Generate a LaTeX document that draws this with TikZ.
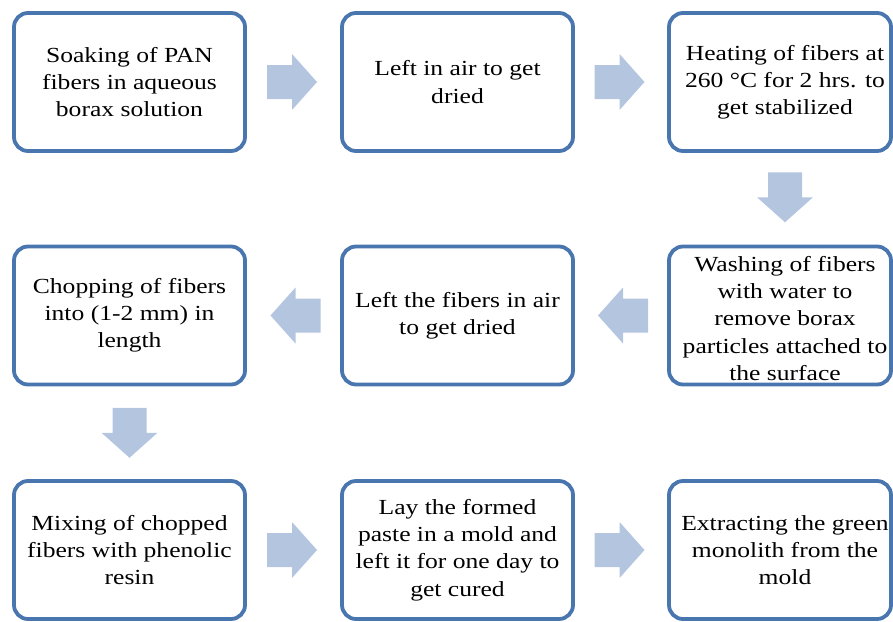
\documentclass[tikz,border=0pt]{standalone}
\usepackage{fontspec}
\setmainfont{Liberation Serif}[FakeStretch=1.19]
\usetikzlibrary{calc}
\definecolor{boxblue}{RGB}{74,118,175}
\definecolor{arrowblue}{RGB}{180,197,224}
\begin{document}
\begin{tikzpicture}[x=1pt,y=-1pt,
  stepbox/.style={draw=boxblue, line width=3.8pt, rounded corners=14pt, fill=white,
    minimum width=231pt, minimum height=138pt, inner sep=0pt},
  narrowbox/.style={stepbox, minimum width=222pt},
  txt/.style={align=center, font=\fontsize{21.5}{27.2}\selectfont, inner sep=0pt},
  blockarrow/.pic={\fill[arrowblue] (-25,-17) -- (0,-17) -- (0,-28) -- (25,0) -- (0,28) -- (0,17) -- (-25,17) -- cycle;}
]
\useasboundingbox (0,0) rectangle (893,621);
% boxes
\node[stepbox]   (b1) at (129.5,82) {};
\node[stepbox]   (b2) at (457.5,82) {};
\node[narrowbox] (b3) at (780,82) {};
\node[stepbox]   (b4) at (129.5,315.5) {};
\node[stepbox]   (b5) at (457.5,315.5) {};
\node[narrowbox] (b6) at (780,315.5) {};
\node[stepbox]   (b7) at (129.5,550) {};
\node[stepbox]   (b8) at (457.5,550) {};
\node[narrowbox] (b9) at (780,550) {};
% texts
\node[txt] (t1) at (b1) {Soaking of PAN\\fibers in aqueous\\borax solution};
\node[txt] (t2) at (b2) {Left in air to get\\dried};
\node[txt] (t3) at ($(b3)+(5,0)$) {Heating of fibers at\\260 °C for 2 hrs. to\\get stabilized};
\node[txt] (t4) at (b4) {Chopping of fibers\\into (1-2 mm) in\\length};
\node[txt] (t5) at (b5) {Left the fibers in air\\to get dried};
\node[txt] (t6) at ($(b6)+(5,3)$) {Washing of fibers\\with water to\\remove borax\\particles attached to\\the surface};
\node[txt] (t7) at (b7) {Mixing of chopped\\fibers with phenolic\\resin};
\node[txt] (t8) at (b8) {Lay the formed\\paste in a mold and\\left it for one day to\\get cured};
\node[txt] (t9) at ($(b9)+(5,0)$) {Extracting the green\\monolith from the\\mold};
% block arrows
\pic at ($(b1.east)!0.5!(b2.west)+(-1.5,0)$) {blockarrow};
\pic at ($(b2.east)!0.5!(b3.west)+(-1.5,0)$) {blockarrow};
\pic[rotate=-90] at ($(b3.south)!0.5!(b6.north)+(5,-1.5)$) {blockarrow};
\pic[rotate=180] at ($(b6.west)!0.5!(b5.east)+(2,0)$) {blockarrow};
\pic[rotate=180] at ($(b5.west)!0.5!(b4.east)+(2,0)$) {blockarrow};
\pic[rotate=-90] at ($(b4.south)!0.5!(b7.north)+(0,0)$) {blockarrow};
\pic at ($(b7.east)!0.5!(b8.west)+(-1.5,0)$) {blockarrow};
\pic at ($(b8.east)!0.5!(b9.west)+(-1.5,0)$) {blockarrow};
\end{tikzpicture}
\end{document}
